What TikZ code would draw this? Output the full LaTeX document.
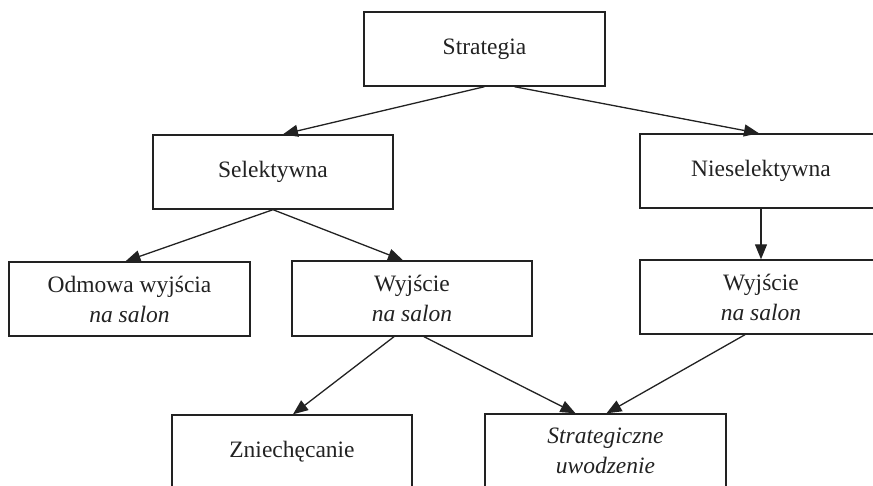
\documentclass[tikz,border=0pt]{standalone}
\usepackage{fontspec}
\setmainfont{Liberation Serif}
\usetikzlibrary{arrows.meta}
\definecolor{ink}{HTML}{222222}
\newcommand{\lowtext}[1]{\raisebox{-3pt}{#1}}
\tikzset{
  box/.style={draw=ink, line width=1.4pt, rectangle, minimum height=74pt, inner sep=0pt,
    align=center, text=ink, font=\fontsize{23.5}{30}\selectfont},
  arr/.style={draw=ink, line width=1.3pt, -{Triangle[length=15pt,width=12pt]}},
}
\begin{document}
\begin{tikzpicture}[x=1pt,y=-1pt]
\useasboundingbox (0,0) rectangle (873,486);
\clip (0,0) rectangle (873,486);
\node[box, minimum width=241pt] (S) at (484.5,49) {\lowtext{Strategia}};
\node[box, minimum width=240pt] (Sel) at (273,172) {\lowtext{Selektywna}};
\node[box, minimum width=242pt] (Nie) at (761,171) {\lowtext{Nieselektywna}};
\node[box, minimum width=241pt] (Odm) at (129.5,299) {Odmowa wyjścia\\\textit{na salon}};
\node[box, minimum width=240pt, minimum height=75pt] (Wy) at (412,298.5) {Wyjście\\\textit{na salon}};
\node[box, minimum width=242pt] (WyR) at (761,297) {Wyjście\\\textit{na salon}};
\node[box, minimum width=240pt] (Zn) at (292,452) {\lowtext{Zniechęcanie}};
\node[box, minimum width=241pt] (St) at (605.5,451) {\textit{Strategiczne}\\\textit{uwodzenie}};
\draw[arr] (S.south) -- ([xshift=10pt]Sel.north);
\draw[arr] ([xshift=30pt]S.south) -- ([xshift=-2pt]Nie.north);
\draw[arr] (Sel.south) -- ([xshift=-4pt]Odm.north);
\draw[arr] (Sel.south) -- ([xshift=-9pt]Wy.north);
\draw[arr] (Nie.south) -- (WyR.north);
\draw[arr] ([xshift=-18pt]Wy.south) -- ([xshift=1pt]Zn.north);
\draw[arr] ([xshift=12pt]Wy.south) -- ([xshift=-30pt]St.north);
\draw[arr] ([xshift=-16pt]WyR.south) -- ([xshift=1pt]St.north);
\end{tikzpicture}
\end{document}
